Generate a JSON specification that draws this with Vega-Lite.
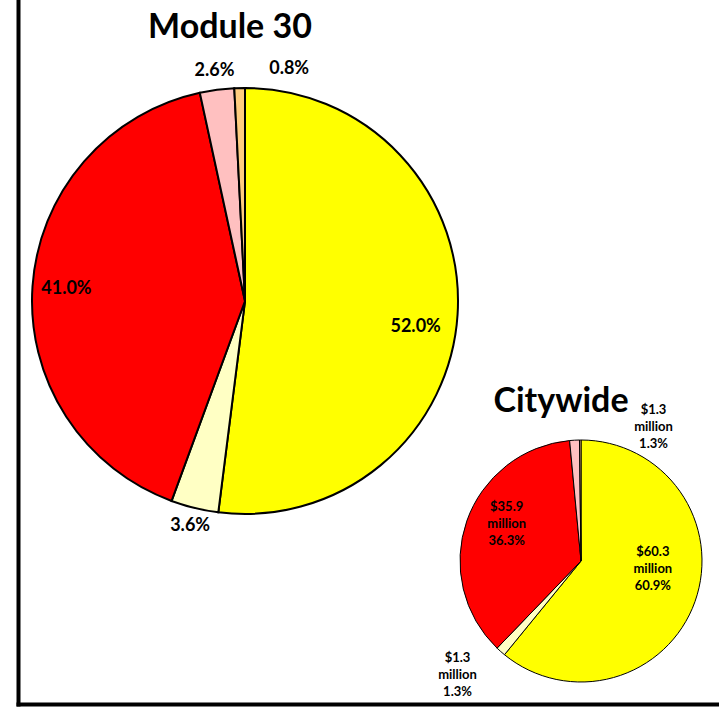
{
  "$schema": "https://vega.github.io/schema/vega-lite/v6.json",
  "width": 701,
  "height": 704,
  "autosize": {"type": "none"},
  "padding": {"left": 18, "top": 0, "right": 0, "bottom": 4},
  "background": "white",
  "config": {"view": {"stroke": null}},
  "datasets": {
    "module": [
      {"chart": "Module 30", "slice": "Segment 1", "value": 52.0, "label": "52.0%"},
      {"chart": "Module 30", "slice": "Segment 2", "value": 3.6, "label": "3.6%"},
      {"chart": "Module 30", "slice": "Segment 3", "value": 41.0, "label": "41.0%"},
      {"chart": "Module 30", "slice": "Segment 4", "value": 2.6, "label": "2.6%"},
      {"chart": "Module 30", "slice": "Segment 5", "value": 0.8, "label": "0.8%"}
    ],
    "citywide": [
      {"chart": "Citywide", "slice": "Segment 1", "value": 60.9, "label": "$60.3\nmillion\n60.9%"},
      {"chart": "Citywide", "slice": "Segment 2", "value": 1.3, "label": "$1.3\nmillion\n1.3%"},
      {"chart": "Citywide", "slice": "Segment 3", "value": 36.3, "label": "$35.9\nmillion\n36.3%"},
      {"chart": "Citywide", "slice": "Segment 4", "value": 1.3, "label": "$1.3\nmillion\n1.3%"},
      {"chart": "Citywide", "slice": "Segment 5", "value": 0.2, "label": ""}
    ]
  },
  "encoding": {
    "x": {"field": "chart", "type": "nominal", "scale": {"type": "point", "domain": ["Module 30", "Citywide"], "padding": 0.54315, "align": 0.62192, "round": false}, "axis": {"labels": false, "ticks": false, "title": null, "grid": false, "domainColor": "black", "domainWidth": 4, "domainCap": "square"}},
    "y": {"field": "chart", "type": "nominal", "scale": {"type": "point", "domain": ["Module 30", "Citywide"], "padding": 0.85385, "align": 0.67793, "round": false}, "axis": {"labels": false, "ticks": false, "title": null, "grid": false, "domainColor": "black", "domainWidth": 4, "domainCap": "square"}}
  },
  "layer": [
    {
      "data": {"name": "module"},
      "mark": {"type": "arc", "outerRadius": 213, "stroke": "black", "strokeWidth": 2},
      "encoding": {
        "theta": {"field": "value", "type": "quantitative", "stack": true, "scale": {"domain": [0, 100]}},
        "color": {"field": "slice", "type": "nominal", "scale": {"domain": ["Segment 1", "Segment 2", "Segment 3", "Segment 4", "Segment 5"], "range": ["#FFFF00", "#FFFFC4", "#FF0000", "#FFC0C0", "#FFCC80"]}, "legend": null},
        "order": {"field": "slice"}
      }
    },
    {
      "data": {"name": "citywide"},
      "mark": {"type": "arc", "outerRadius": 121, "stroke": "black", "strokeWidth": 1},
      "encoding": {
        "theta": {"field": "value", "type": "quantitative", "stack": true},
        "color": {"field": "slice", "type": "nominal", "legend": null},
        "order": {"field": "slice"}
      }
    },
    {
      "data": {"name": "module"},
      "mark": {"type": "text", "radius": 171, "dy": 15, "font": "Lato", "fontSize": 18, "fontWeight": "bold", "color": "black"},
      "encoding": {
        "theta": {"field": "value", "type": "quantitative", "stack": true},
        "detail": {"field": "slice"},
        "order": {"field": "slice"},
        "text": {"condition": {"test": "datum.slice === 'Segment 1'", "field": "label"}, "value": ""}
      }
    },
    {
      "data": {"name": "module"},
      "mark": {"type": "text", "radius": 179, "font": "Lato", "fontSize": 18, "fontWeight": "bold", "color": "black"},
      "encoding": {
        "theta": {"field": "value", "type": "quantitative", "stack": true},
        "detail": {"field": "slice"},
        "order": {"field": "slice"},
        "text": {"condition": {"test": "datum.slice === 'Segment 3'", "field": "label"}, "value": ""}
      }
    },
    {
      "data": {"name": "module"},
      "mark": {"type": "text", "radius": 232, "font": "Lato", "fontSize": 18, "fontWeight": "bold", "color": "black"},
      "encoding": {
        "theta": {"field": "value", "type": "quantitative", "stack": true},
        "detail": {"field": "slice"},
        "order": {"field": "slice"},
        "text": {"condition": {"test": "datum.slice === 'Segment 2' || datum.slice === 'Segment 4'", "field": "label"}, "value": ""}
      }
    },
    {
      "data": {"name": "module"},
      "mark": {"type": "text", "radius": 232, "dx": 50, "font": "Lato", "fontSize": 18, "fontWeight": "bold", "color": "black"},
      "encoding": {
        "theta": {"field": "value", "type": "quantitative", "stack": true},
        "detail": {"field": "slice"},
        "order": {"field": "slice"},
        "text": {"condition": {"test": "datum.slice === 'Segment 5'", "field": "label"}, "value": ""}
      }
    },
    {
      "data": {"name": "citywide"},
      "mark": {"type": "text", "radius": 72, "dx": 4, "dy": -33, "lineBreak": "\n", "lineHeight": 17, "font": "Lato", "fontSize": 13, "fontWeight": "bold", "color": "black"},
      "encoding": {
        "theta": {"field": "value", "type": "quantitative", "stack": true},
        "detail": {"field": "slice"},
        "order": {"field": "slice"},
        "text": {"condition": {"test": "datum.slice === 'Segment 1'", "field": "label"}, "value": ""}
      }
    },
    {
      "data": {"name": "citywide"},
      "mark": {"type": "text", "radius": 83, "dx": 4, "dy": -27, "lineBreak": "\n", "lineHeight": 17, "font": "Lato", "fontSize": 13, "fontWeight": "bold", "color": "black"},
      "encoding": {
        "theta": {"field": "value", "type": "quantitative", "stack": true},
        "detail": {"field": "slice"},
        "order": {"field": "slice"},
        "text": {"condition": {"test": "datum.slice === 'Segment 3'", "field": "label"}, "value": ""}
      }
    },
    {
      "data": {"name": "citywide"},
      "mark": {"type": "text", "radius": 168, "dx": -12, "dy": -29, "lineBreak": "\n", "lineHeight": 17, "font": "Lato", "fontSize": 13, "fontWeight": "bold", "color": "black"},
      "encoding": {
        "theta": {"field": "value", "type": "quantitative", "stack": true},
        "detail": {"field": "slice"},
        "order": {"field": "slice"},
        "text": {"condition": {"test": "datum.slice === 'Segment 2'", "field": "label"}, "value": ""}
      }
    },
    {
      "data": {"name": "citywide"},
      "mark": {"type": "text", "radius": 140, "dx": 80, "dy": -11, "lineBreak": "\n", "lineHeight": 17, "font": "Lato", "fontSize": 13, "fontWeight": "bold", "color": "black"},
      "encoding": {
        "theta": {"field": "value", "type": "quantitative", "stack": true},
        "detail": {"field": "slice"},
        "order": {"field": "slice"},
        "text": {"condition": {"test": "datum.slice === 'Segment 4'", "field": "label"}, "value": ""}
      }
    },
    {
      "data": {"values": [{"chart": "Module 30"}]},
      "mark": {"type": "text", "dx": -15, "dy": -263, "baseline": "alphabetic", "font": "Lato", "fontSize": 34, "fontWeight": "bold", "color": "black"},
      "encoding": {"text": {"field": "chart"}}
    },
    {
      "data": {"values": [{"chart": "Citywide"}]},
      "mark": {"type": "text", "dx": -20, "dy": -149, "baseline": "alphabetic", "font": "Lato", "fontSize": 34, "fontWeight": "bold", "color": "black"},
      "encoding": {"text": {"field": "chart"}}
    }
  ]
}
